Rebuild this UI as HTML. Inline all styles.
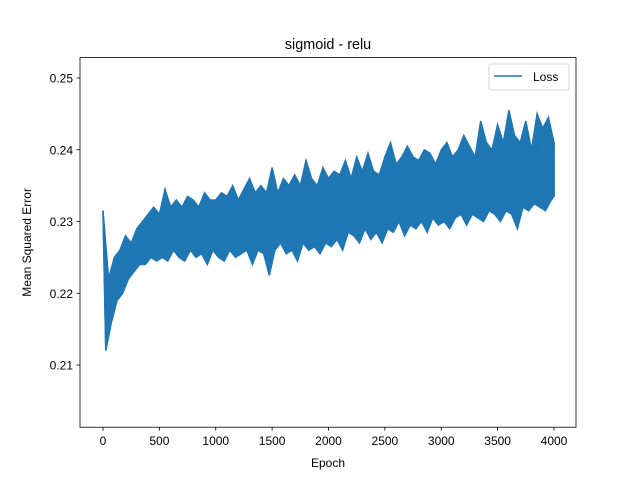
<!DOCTYPE html>
<html><head><meta charset="utf-8">
<style>
body{margin:0;background:#fff;}
svg text{font-family:"Liberation Sans","DejaVu Sans",sans-serif;fill:#000;}
</style></head>
<body>
<svg id="chart" width="640" height="480" xmlns="http://www.w3.org/2000/svg">
<rect width="640" height="480" fill="#fff"/>
<text x="328" y="49" font-size="14.4" text-anchor="middle">sigmoid - relu</text>
<g id="plot"></g>
<rect x="80" y="57.6" width="496" height="369.6" fill="none" stroke="#000" stroke-width="0.8"/>
<g id="xt"></g><g id="yt"></g>
<text x="328" y="467" font-size="12" text-anchor="middle">Epoch</text>
<text transform="translate(31,242.4) rotate(-90)" font-size="12" text-anchor="middle">Mean Squared Error</text>
<g>
<rect x="489" y="64" width="80" height="26" rx="2" fill="#fff" fill-opacity="0.8" stroke="#ccc" stroke-width="0.8"/>
<line x1="494" y1="76" x2="522" y2="76" stroke="#1f77b4" stroke-width="1.5"/>
<text x="533" y="81" font-size="12">Loss</text>
</g>
</svg>
<script>
const xTicks=[0,500,1000,1500,2000,2500,3000,3500,4000];
const yTicks=[0.21,0.22,0.23,0.24,0.25];
const yTickLabels=["0.21","0.22","0.23","0.24","0.25"];
const hiVals=[0.2315,0.222,0.225,0.226,0.228,0.227,0.229,0.230,0.231,0.232,0.231,0.2345,0.232,0.233,0.232,0.2335,0.233,0.232,0.234,0.233,0.233,0.234,0.2335,0.235,0.233,0.2345,0.236,0.234,0.235,0.234,0.2375,0.234,0.236,0.235,0.2365,0.235,0.2385,0.236,0.235,0.2375,0.236,0.237,0.2365,0.2385,0.236,0.239,0.237,0.2395,0.237,0.2365,0.239,0.241,0.238,0.239,0.2405,0.239,0.2385,0.24,0.2395,0.238,0.240,0.241,0.239,0.240,0.242,0.2405,0.239,0.244,0.241,0.240,0.2435,0.241,0.2455,0.242,0.241,0.244,0.240,0.245,0.243,0.2445,0.241];
const loVals=[0.212,0.216,0.219,0.220,0.222,0.223,0.224,0.224,0.225,0.2245,0.225,0.2245,0.226,0.225,0.2245,0.226,0.225,0.2255,0.224,0.226,0.225,0.2245,0.226,0.225,0.2255,0.226,0.224,0.226,0.2255,0.2225,0.226,0.227,0.2255,0.226,0.2245,0.227,0.226,0.2265,0.2255,0.227,0.2265,0.2275,0.226,0.2285,0.228,0.227,0.229,0.2275,0.2285,0.227,0.229,0.2285,0.230,0.228,0.2295,0.229,0.230,0.2285,0.2305,0.2295,0.230,0.229,0.2305,0.231,0.2295,0.231,0.2305,0.230,0.2315,0.231,0.230,0.2315,0.231,0.229,0.232,0.2315,0.2325,0.232,0.2315,0.233,0.2335];
const NS="http://www.w3.org/2000/svg";
const X=e=>103+e*(451/4000);
const Y=v=>365-(v-0.21)*7175;
const plot=document.getElementById('plot');
let pts=[],up=[],dn=[];
for(let i=0;i<hiVals.length;i++){
  const e2=Math.min(i*50+25,4000);
  pts.push(X(i*50).toFixed(1)+','+Y(hiVals[i]).toFixed(1));
  pts.push(X(e2).toFixed(1)+','+Y(loVals[i]).toFixed(1));
  up.push(X(i*50).toFixed(1)+','+Y(hiVals[i]).toFixed(1));
  dn.unshift(X(e2).toFixed(1)+','+Y(loVals[i]).toFixed(1));
}
const band=document.createElementNS(NS,'polygon');


band.setAttribute('points',up.concat(dn).join(' '));
band.setAttribute('fill','#1f77b4');band.setAttribute('stroke','#1f77b4');band.setAttribute('stroke-width','1.5');
plot.appendChild(band);
const pl=document.createElementNS(NS,'polyline');


pl.setAttribute('points',pts.join(' '));
pl.setAttribute('fill','none');pl.setAttribute('stroke','#1f77b4');pl.setAttribute('stroke-width','1.5');
plot.appendChild(pl);
const xt=document.getElementById('xt');
xTicks.forEach(t=>{
  const l=document.createElementNS(NS,'line');
  
  
  l.setAttribute('x1',X(t));l.setAttribute('x2',X(t));l.setAttribute('y1',427.2);l.setAttribute('y2',430.7);l.setAttribute('stroke','#000');l.setAttribute('stroke-width','0.8');
  xt.appendChild(l);
  const tx=document.createElementNS(NS,'text');
  
  
  tx.setAttribute('x',X(t));tx.setAttribute('y',445);tx.setAttribute('font-size','12');tx.setAttribute('text-anchor','middle');
  tx.textContent=t;xt.appendChild(tx);
});
const yt=document.getElementById('yt');
yTicks.forEach((t,i)=>{
  const l=document.createElementNS(NS,'line');
  
  
  l.setAttribute('x1',76.5);l.setAttribute('x2',80);l.setAttribute('y1',Y(t));l.setAttribute('y2',Y(t));l.setAttribute('stroke','#000');l.setAttribute('stroke-width','0.8');
  yt.appendChild(l);
  const tx=document.createElementNS(NS,'text');
  
  
  tx.setAttribute('x',73);tx.setAttribute('y',Y(t)+4.5);tx.setAttribute('font-size','12');tx.setAttribute('text-anchor','end');
  tx.textContent=yTickLabels[i];yt.appendChild(tx);
});
</script>
</body></html>
